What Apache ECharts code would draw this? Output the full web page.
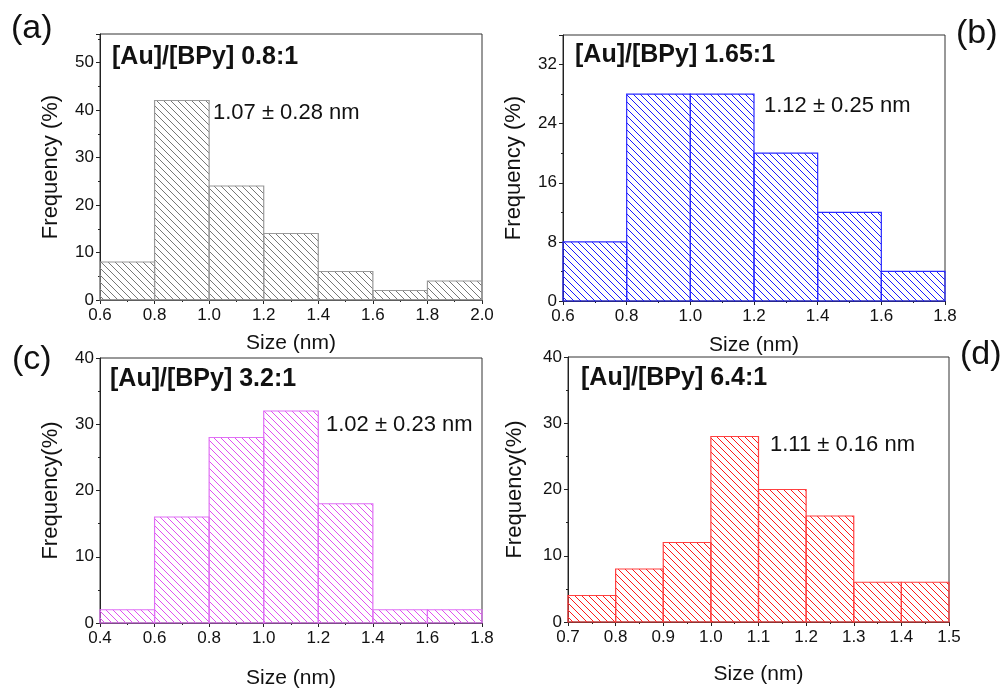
<!DOCTYPE html>
<html>
<head>
<meta charset="utf-8">
<script src="https://cdn.jsdelivr.net/npm/echarts@6/dist/echarts.min.js"></script>
<style>html,body{margin:0;padding:0;background:#fff}#c{width:1004px;height:690px}</style>
</head>
<body>
<div id="c"></div>
<script>
// ---- data ----
const edgesA = [0.6, 0.8, 1.0, 1.2, 1.4, 1.6, 1.8, 2.0];
const freqA = [8, 42, 24, 14, 6, 2, 4];
const edgesB = [0.6, 0.8, 1.0, 1.2, 1.4, 1.6, 1.8];
const freqB = [8, 28, 28, 20, 12, 4];
const edgesC = [0.4, 0.6, 0.8, 1.0, 1.2, 1.4, 1.6, 1.8];
const freqC = [2, 16, 28, 32, 18, 2, 2];
const edgesD = [0.7, 0.8, 0.9, 1.0, 1.1, 1.2, 1.3, 1.4, 1.5];
const freqD = [4, 8, 12, 28, 20, 16, 6, 6];
const titles = ['[Au]/[BPy] 0.8:1', '[Au]/[BPy] 1.65:1', '[Au]/[BPy] 3.2:1', '[Au]/[BPy] 6.4:1'];
const notes = ['1.07 ± 0.28 nm', '1.12 ± 0.25 nm', '1.02 ± 0.23 nm', '1.11 ± 0.16 nm'];
const panelTags = ['(a)', '(b)', '(c)', '(d)'];
const yNames = ['Frequency (%)', 'Frequency (%)', 'Frequency(%)', 'Frequency(%)'];
const xName = 'Size (nm)';

// ---- styling ----
const FONT = '"Liberation Sans", Arial, sans-serif';
function hatch(color) {
  const s = 7;
  const cv = document.createElement('canvas');
  cv.width = s; cv.height = s;
  const g = cv.getContext('2d');
  g.strokeStyle = color; g.lineWidth = 1;
  g.beginPath();
  g.moveTo(-1, -1); g.lineTo(s + 1, s + 1);
  g.moveTo(-1, s - 1); g.lineTo(1, s + 1);
  g.moveTo(s - 1, -1); g.lineTo(s + 1, 1);
  g.stroke();
  return { image: cv, repeat: 'repeat' };
}
const panels = [
  { edges: edgesA, freq: freqA, line: '#777777', border: '#9a9a9a', grid: { left: 100, right: 522, top: 34, bottom: 390 }, xMin: 0.6, xMax: 2.0, xInt: 0.2, yMax: 56, yInt: 10, yGap: 38, xGap: 33 },
  { edges: edgesB, freq: freqB, line: '#1a1aff', border: '#2a2aff', grid: { left: 563, right: 59, top: 35, bottom: 389 }, xMin: 0.6, xMax: 1.8, xInt: 0.2, yMax: 36, yInt: 8, yGap: 38, xGap: 34 },
  { edges: edgesC, freq: freqC, line: '#e050f0', border: '#e070f5', grid: { left: 100, right: 522, top: 358, bottom: 66 }, xMin: 0.4, xMax: 1.8, xInt: 0.2, yMax: 40, yInt: 10, yGap: 38, xGap: 45 },
  { edges: edgesD, freq: freqD, line: '#ff1a1a', border: '#ff4040', grid: { left: 568, right: 55, top: 357, bottom: 68 }, xMin: 0.7, xMax: 1.5, xInt: 0.1, yMax: 40, yInt: 10, yGap: 42, xGap: 42 }
];

const grid = [], xAxis = [], yAxis = [], series = [], graphic = [];
const titleTexts = [
  { x: 112, y: 59 }, { x: 575, y: 57 }, { x: 110, y: 381 }, { x: 581, y: 380 }
];
const notePos = [
  { x: 213, y: 114 }, { x: 764, y: 107 }, { x: 326, y: 426 }, { x: 770, y: 446 }
];
const tagPos = [
  { x: 11, y: 31 }, { x: 956, y: 36 }, { x: 12, y: 362 }, { x: 960, y: 357 }
];

panels.forEach((p, i) => {
  grid.push(Object.assign({ show: true, borderColor: '#333', borderWidth: 1, backgroundColor: 'transparent' }, p.grid));
  xAxis.push({
    type: 'value', gridIndex: i, min: p.xMin, max: p.xMax, interval: p.xInt,
    name: xName, nameLocation: 'middle', nameGap: p.xGap,
    nameTextStyle: { fontFamily: FONT, fontSize: 21, color: '#111' },
    axisLine: { show: true, onZero: false, lineStyle: { color: '#222', width: 1 } },
    axisTick: { show: true, inside: false, length: 4, lineStyle: { color: '#222' } },
    minorTick: { show: true, splitNumber: 2, length: 2, lineStyle: { color: '#222' } },
    axisLabel: { fontFamily: FONT, fontSize: 17, color: '#111', margin: 7, formatter: v => v.toFixed(1) },
    splitLine: { show: false }
  });
  yAxis.push({
    type: 'value', gridIndex: i, min: 0, max: p.yMax, interval: p.yInt,
    name: yNames[i], nameLocation: 'middle', nameGap: p.yGap, nameRotate: 90,
    nameTextStyle: { fontFamily: FONT, fontSize: 22, color: '#111' },
    axisLine: { show: true, lineStyle: { color: '#222', width: 1 } },
    axisTick: { show: true, inside: false, length: 4, lineStyle: { color: '#222' } },
    minorTick: { show: true, splitNumber: 2, length: 2, lineStyle: { color: '#222' } },
    axisLabel: { fontFamily: FONT, fontSize: 17, color: '#111', margin: 6, showMaxLabel: p.yMax % p.yInt === 0 },
    splitLine: { show: false }
  });
  const pat = hatch(p.line);
  const data = p.freq.map((f, k) => [p.edges[k], p.edges[k + 1], f]);
  series.push({
    type: 'custom', xAxisIndex: i, yAxisIndex: i, data: data,
    encode: { x: [0, 1], y: 2 },
    renderItem: (params, api) => {
      const a = api.coord([api.value(0), api.value(2)]);
      const b = api.coord([api.value(1), 0]);
      return {
        type: 'rect',
        shape: { x: a[0], y: a[1], width: b[0] - a[0], height: b[1] - a[1] },
        style: { fill: pat, stroke: p.border, lineWidth: 1.2 }
      };
    }
  });
  graphic.push({
    type: 'text', left: titleTexts[i].x, top: titleTexts[i].y - 14,
    style: { text: titles[i], font: 'bold 25px ' + FONT, fill: '#111' }
  });
  graphic.push({
    type: 'text', left: notePos[i].x, top: notePos[i].y - 12,
    style: { text: notes[i], font: '22px ' + FONT, fill: '#111' }
  });
  graphic.push({
    type: 'text', left: tagPos[i].x, top: tagPos[i].y - 19,
    style: { text: panelTags[i], font: '34px ' + FONT, fill: '#111' }
  });
});

const chart = echarts.init(document.getElementById('c'), null, { renderer: 'canvas' });
chart.setOption({
  animation: false,
  backgroundColor: '#fff',
  grid, xAxis, yAxis, series, graphic
});
</script>
</body>
</html>
